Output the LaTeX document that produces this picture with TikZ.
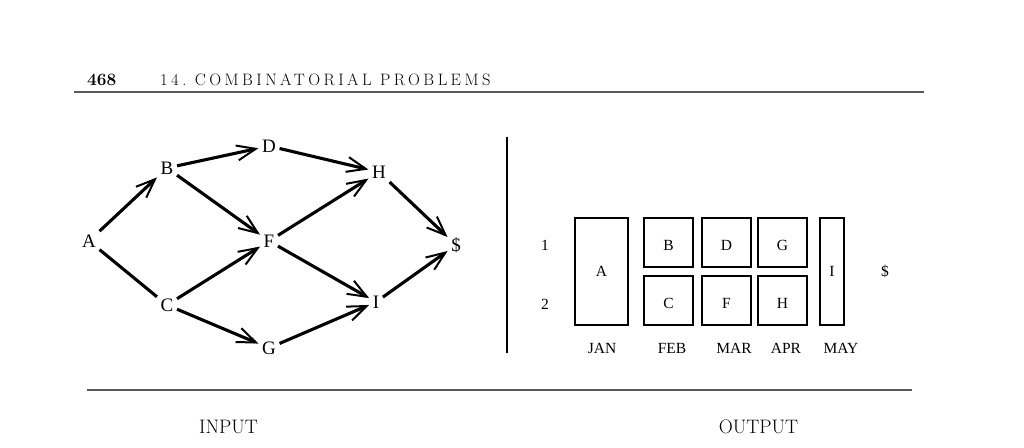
\documentclass[tikz,border=0pt]{standalone}
\usepackage{fontspec}
\newfontfamily\tms{Liberation Serif}
\newfontfamily\hdr{Latin Modern Roman}[LetterSpace=21]
\usetikzlibrary{arrows.meta}
\tikzset{
  gnode/.style={font=\tms\fontsize{19}{19}\selectfont, inner sep=3.5pt, text height=12.8pt, text depth=0pt},
  garrow/.style={line width=3.1pt, -{Straight Barb[length=19pt,width=15pt,line width=2pt]}},
  gline/.style={line width=3.1pt},
  slot/.style={draw, line width=1.7pt},
  otext/.style={font=\tms\fontsize{15.5}{15.5}\selectfont},
  rulestyle/.style={line width=1.3pt, gray!70!black},
  captext/.style={font=\fontsize{19.5}{19.5}\selectfont}
}
\begin{document}
\begin{tikzpicture}[x=1pt,y=-1pt]
\useasboundingbox (0,0) rectangle (1024,447);
% header
\node[font=\fontsize{17.3}{17.3}\selectfont\bfseries, anchor=base west, inner sep=0] (pg) at (87,85) {468};
\node[font=\hdr\fontsize{16.5}{16.5}\selectfont, anchor=base west, inner sep=0] (ttl) at (160,85) {14.\ COMBINATORIAL PROBLEMS};
\coordinate (r1a) at (74,92); \coordinate (r1b) at (924,92);
\draw[rulestyle] (r1a) -- (r1b);
% graph
\node[gnode] (A) at (89,241) {A};
\node[gnode] (B) at (167,168) {B};
\node[gnode] (D) at (269,146) {D};
\node[gnode] (C) at (167,305) {C};
\node[gnode] (F) at (269,241) {F};
\node[gnode] (G) at (269,348) {G};
\node[gnode] (H) at (379,172) {H};
\node[gnode] (I) at (376,302) {I};
\node[gnode] (S) at (456,245) {\$};
\draw[garrow] (A) -- (B);
\draw[gline] (A) -- (C);
\draw[garrow] (B) -- (D);
\draw[garrow] (B) -- (F);
\draw[garrow] (C) -- (F);
\draw[garrow] (C) -- (G);
\draw[garrow] (D) -- (H);
\draw[garrow] (F) -- (H);
\draw[garrow] (F) -- (I);
\draw[garrow] (G) -- (I);
\draw[garrow] (H) -- (S);
\draw[garrow] (I) -- (S);
% separator
\coordinate (sa) at (507,137); \coordinate (sb) at (507,353);
\draw[line width=1.2pt] (sa) -- (sb);
% output
\node[otext] (r1) at (545,245) {1};
\node[otext] (r2) at (545,304) {2};
\draw[slot] (575,218) rectangle (628,325);
\node[otext] (oA) at (601.5,271) {A};
\draw[slot] (644,218) rectangle (693,267);
\node[otext] (oB) at (668.5,245) {B};
\draw[slot] (644,276) rectangle (693,325);
\node[otext] (oC) at (668.5,303) {C};
\draw[slot] (702,218) rectangle (751,267);
\node[otext] (oD) at (726.5,245) {D};
\draw[slot] (702,276) rectangle (751,325);
\node[otext] (oF) at (726.5,303) {F};
\draw[slot] (758,218) rectangle (807,267);
\node[otext] (oG) at (782.5,245) {G};
\draw[slot] (758,276) rectangle (807,325);
\node[otext] (oH) at (782.5,303) {H};
\draw[slot] (820,218) rectangle (844,325);
\node[otext] (oI) at (832,271) {I};
\node[otext] (oS) at (885,271) {\$};
\node[otext] (m1) at (602,348) {JAN};
\node[otext] (m2) at (672,348) {FEB};
\node[otext] (m3) at (734,348) {MAR};
\node[otext] (m4) at (786,348) {APR};
\node[otext] (m5) at (841,348) {MAY};
% bottom
\coordinate (r2a) at (87,390); \coordinate (r2b) at (912,390);
\draw[rulestyle] (r2a) -- (r2b);
\node[captext] (inp) at (228.5,426.5) {INPUT};
\node[captext] (outp) at (758.5,426.5) {OUTPUT};
\end{tikzpicture}
\end{document}
